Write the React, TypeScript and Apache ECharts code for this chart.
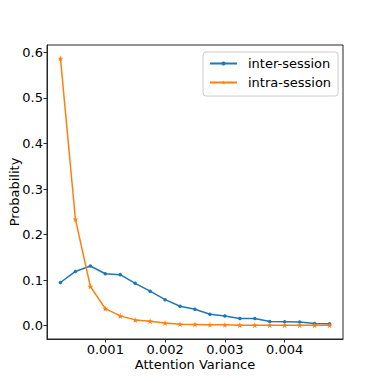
import React, { useEffect, useRef } from "react";
import * as echarts from "echarts";

const xValues = [
  0.00025, 0.0005, 0.00075, 0.001, 0.00125, 0.0015, 0.00175, 0.002, 0.00225,
  0.0025, 0.00275, 0.003, 0.00325, 0.0035, 0.00375, 0.004, 0.00425, 0.0045, 0.00475,
];
const interSession = [
  0.0947, 0.119, 0.131, 0.114, 0.112, 0.093, 0.0757, 0.057, 0.0427, 0.036,
  0.025, 0.0214, 0.0155, 0.0155, 0.0089, 0.0087, 0.0082, 0.0045, 0.004,
];
const intraSession = [
  0.587, 0.234, 0.086, 0.0375, 0.0214, 0.0126, 0.0097, 0.006, 0.003, 0.0025,
  0.002, 0.002, 0.001, 0.001, 0.001, 0.001, 0.001, 0.001, 0.001,
];
const xTicks = [0.001, 0.002, 0.003, 0.004];
const yTicks = [0, 0.1, 0.2, 0.3, 0.4, 0.5, 0.6];
const seriesNames = ["inter-session", "intra-session"];

const STAR =
  "path://M0,-1 L0.2245,-0.309 L0.951,-0.309 L0.363,0.118 L0.588,0.809 L0,0.382 L-0.588,0.809 L-0.363,0.118 L-0.951,-0.309 L-0.2245,-0.309 Z";

export default function App() {
  const ref = useRef<HTMLDivElement>(null);
  useEffect(() => {
    if (!ref.current) return;
    const chart = echarts.init(ref.current, undefined, { renderer: "svg" });
    const font = "DejaVu Sans";
    const dataMax = 0.587;
    chart.setOption({
      animation: false,
      backgroundColor: "#ffffff",
      textStyle: { fontFamily: font },
      grid: {
        left: 47,
        right: 39,
        top: 45,
        bottom: 42,
        containLabel: false,
        outerBoundsMode: "none",
        show: true,
        borderColor: "#262626",
        borderWidth: 1,
        backgroundColor: "transparent",
      },
      legend: {
        orient: "vertical",
        left: 203,
        top: 52,
        padding: [5, 7, 7, 6],
        itemWidth: 27,
        itemHeight: 5,
        itemGap: 6,
        backgroundColor: "#ffffff",
        borderColor: "#cccccc",
        borderWidth: 1,
        borderRadius: 3,
        textStyle: { fontFamily: font, fontSize: 13, color: "#000", padding: [0, 0, 0, 6] },
        data: seriesNames,
      },
      xAxis: {
        type: "value",
        min: 0.000025,
        max: 0.004975,
        name: "Attention Variance",
        nameLocation: "middle",
        nameGap: 19,
        nameMoveOverlap: false,
        nameTextStyle: { fontFamily: font, fontSize: 13, color: "#000", verticalAlign: "top" },
        axisLine: { show: true, onZero: false, lineStyle: { color: "#262626", width: 1 } },
        axisTick: { show: true, inside: false, length: 3.5, customValues: xTicks, lineStyle: { color: "#262626" } },
        axisLabel: {
          customValues: xTicks,
          margin: 4,
          fontFamily: font,
          fontSize: 13,
          color: "#000",
          formatter: (v: number) => v.toFixed(3),
        },
        splitLine: { show: false },
      },
      yAxis: {
        type: "value",
        min: -0.05 * dataMax,
        max: 1.05 * dataMax,
        name: "Probability",
        nameLocation: "middle",
        nameGap: 26,
        nameMoveOverlap: false,
        nameTextStyle: { fontFamily: font, fontSize: 13, color: "#000" },
        axisLine: { show: true, onZero: false, lineStyle: { color: "#262626", width: 1 } },
        axisTick: { show: true, inside: false, length: 3.5, customValues: yTicks, lineStyle: { color: "#262626" } },
        axisLabel: {
          customValues: yTicks,
          margin: 4,
          fontFamily: font,
          fontSize: 13,
          color: "#000",
          formatter: (v: number) => v.toFixed(1),
        },
        splitLine: { show: false },
      },
      series: [
        {
          name: seriesNames[0],
          type: "line",
          data: xValues.map((x, i) => [x, interSession[i]]),
          symbol: "circle",
          symbolSize: 3.5,
          showAllSymbol: true,
          lineStyle: { color: "#1f77b4", width: 1.5 },
          itemStyle: { color: "#1f77b4" },
          z: 2,
        },
        {
          name: seriesNames[1],
          type: "line",
          data: xValues.map((x, i) => [x, intraSession[i]]),
          symbol: STAR,
          symbolSize: 6,
          showAllSymbol: true,
          lineStyle: { color: "#ff7f0e", width: 1.5 },
          itemStyle: { color: "#ff7f0e" },
          z: 3,
        },
      ],
    });
    return () => chart.dispose();
  }, []);
  return (
    <div
      ref={ref}
      style={{ position: "fixed", left: 0, top: 0, width: 382, height: 381 }}
    />
  );
}
